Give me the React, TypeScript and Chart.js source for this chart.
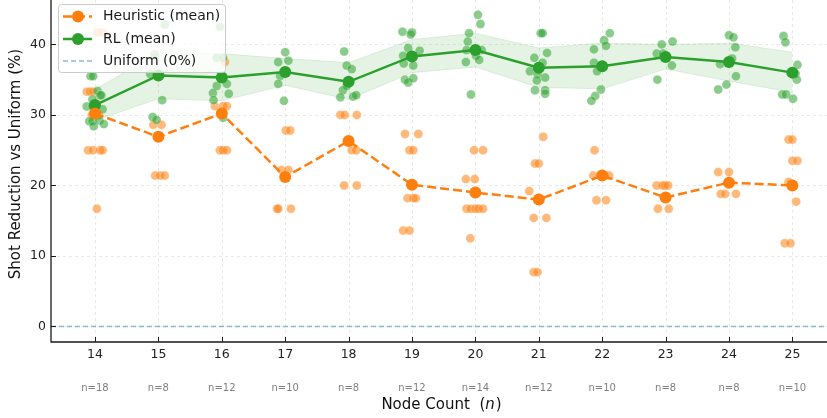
import React, { useEffect, useRef } from "react";
import { Chart, registerables } from "chart.js";

Chart.register(...registerables);

// ---------------- data ----------------
const nodeCounts = [14, 15, 16, 17, 18, 19, 20, 21, 22, 23, 24, 25];
const sampleSizes = [18, 8, 12, 10, 8, 12, 14, 12, 10, 8, 8, 10];
const heuristicMean = [30.2, 26.9, 30.2, 21.2, 26.3, 20.1, 19.0, 18.0, 21.4, 18.3, 20.4, 20.0];
const rlMean = [31.4, 35.6, 35.3, 36.1, 34.7, 38.3, 39.2, 36.7, 36.9, 38.2, 37.5, 36.0];
const rlUpper = [33.6, 38.9, 38.7, 38.0, 37.4, 40.7, 41.6, 39.5, 40.2, 40.0, 40.2, 38.9];
const rlLower = [29.2, 32.3, 32.0, 34.2, 32.2, 36.0, 36.8, 33.9, 33.7, 36.5, 34.8, 33.2];
const yTicks = [0, 10, 20, 30, 40];
const xLimits = [13.306, 25.546];
const yLimits = [-2.2, 46.3];
const uniformLevel = 0;

// individual runs: [node count, jitter, value]
const heuristicRuns: [number, number, number][] = [
  [14, 0.04, 41.7], [14, 0.13, 41.7], [14, -0.13, 33.3], [14, -0.08, 33.3], [14, -0.03, 33.3],
  [14, -0.05, 30.0], [14, 0.06, 30.0], [14, -0.11, 25.0], [14, -0.03, 25.0], [14, 0.08, 25.0],
  [14, 0.12, 25.0], [14, 0.03, 16.7],
  [15, -0.08, 28.6], [15, 0.05, 28.6], [15, -0.05, 21.4], [15, 0.03, 21.4], [15, 0.1, 21.4],
  [16, 0.05, 37.5], [16, -0.11, 31.25], [16, 0.02, 31.25], [16, 0.08, 31.25], [16, -0.03, 25.0],
  [16, 0.02, 25.0], [16, 0.08, 25.0],
  [17, 0.01, 27.8], [17, 0.08, 27.8], [17, -0.06, 22.2], [17, 0.05, 22.2], [17, -0.13, 16.7],
  [17, -0.11, 16.7], [17, 0.09, 16.7],
  [18, -0.13, 30.0], [18, -0.06, 30.0], [18, 0.13, 30.0], [18, 0.05, 25.0], [18, 0.12, 25.0],
  [18, -0.07, 20.0], [18, 0.13, 20.0],
  [19, -0.11, 27.3], [19, 0.1, 27.3], [19, -0.04, 25.0], [19, 0.02, 25.0], [19, -0.07, 18.2],
  [19, 0.02, 18.2], [19, 0.06, 18.2], [19, -0.14, 13.6], [19, -0.04, 13.6],
  [20, -0.02, 25.0], [20, 0.12, 25.0], [20, -0.15, 20.9], [20, -0.01, 20.9], [20, -0.14, 16.7],
  [20, -0.07, 16.7], [20, 0.0, 16.7], [20, 0.05, 16.7], [20, 0.12, 16.7], [20, -0.08, 12.5],
  [21, 0.07, 26.9], [21, -0.06, 23.1], [21, 0.0, 23.1], [21, -0.15, 19.2], [21, -0.08, 15.4],
  [21, 0.12, 15.4], [21, -0.08, 7.7], [21, -0.02, 7.7],
  [22, -0.12, 25.0], [22, -0.14, 21.4], [22, 0.04, 21.4], [22, 0.11, 21.4], [22, -0.09, 17.9],
  [22, 0.06, 17.9],
  [23, -0.14, 20.0], [23, -0.05, 20.0], [23, -0.01, 20.0], [23, 0.04, 20.0], [23, -0.12, 16.7],
  [23, 0.05, 16.7],
  [24, -0.17, 21.9], [24, 0.0, 21.9], [24, -0.13, 18.8], [24, -0.06, 18.8], [24, 0.11, 18.8],
  [25, -0.06, 26.5], [25, 0.0, 26.5], [25, 0.0, 23.5], [25, 0.08, 23.5], [25, -0.06, 20.5],
  [25, 0.06, 17.7], [25, -0.12, 11.8], [25, -0.03, 11.8],
];

const rlRuns: [number, number, number][] = [
  [14, -0.07, 35.5], [14, -0.03, 35.5], [14, 0.04, 33.4], [14, 0.08, 32.8], [14, 0.1, 32.8],
  [14, -0.04, 32.2], [14, -0.13, 31.2], [14, -0.04, 31.2], [14, 0.12, 30.8], [14, -0.09, 29.1],
  [14, -0.04, 29.1], [14, 0.07, 29.2], [14, -0.02, 28.4], [14, 0.14, 28.7],
  [15, 0.1, 42.8], [15, -0.06, 38.6], [15, -0.13, 35.8], [15, 0.06, 32.1], [15, -0.09, 29.7],
  [15, -0.03, 29.3],
  [16, -0.03, 42.5], [16, -0.08, 38.1], [16, 0.02, 38.1], [16, 0.08, 34.4], [16, -0.08, 34.1],
  [16, -0.14, 33.1], [16, 0.11, 33.0], [16, -0.13, 32.1], [16, 0.02, 29.6],
  [17, 0.0, 38.9], [17, -0.11, 37.5], [17, 0.05, 37.7], [17, -0.08, 35.5], [17, -0.11, 34.4],
  [17, -0.02, 32.0],
  [18, -0.07, 39.0], [18, -0.03, 37.0], [18, 0.05, 36.5], [18, -0.09, 33.5], [18, -0.03, 34.1],
  [18, -0.13, 32.5], [18, 0.07, 32.6], [18, 0.12, 32.8],
  [19, -0.15, 41.8], [19, 0.0, 41.7], [19, -0.02, 41.4], [19, -0.06, 39.5], [19, 0.12, 39.1],
  [19, -0.14, 38.4], [19, 0.02, 37.0], [19, -0.13, 37.3], [19, -0.11, 35.0], [19, -0.06, 34.6],
  [19, 0.02, 35.2],
  [20, 0.04, 44.2], [20, 0.08, 42.9], [20, -0.1, 41.6], [20, -0.12, 40.4], [20, -0.14, 39.2],
  [20, 0.1, 39.2], [20, 0.01, 38.4], [20, 0.06, 37.8], [20, -0.15, 37.5], [20, -0.07, 32.9],
  [21, 0.03, 41.6], [21, 0.06, 41.6], [21, 0.13, 38.8], [21, -0.07, 38.1], [21, 0.06, 37.4],
  [21, -0.14, 36.2], [21, -0.02, 35.8], [21, 0.1, 35.3], [21, -0.03, 34.9], [21, -0.06, 33.5],
  [21, 0.1, 33.5], [21, 0.1, 33.0],
  [22, 0.12, 41.6], [22, 0.03, 40.6], [22, 0.06, 39.8], [22, -0.13, 39.3], [22, -0.13, 37.4],
  [22, -0.08, 36.2], [22, -0.02, 33.6], [22, -0.11, 32.7], [22, -0.17, 32.0],
  [23, -0.06, 40.0], [23, 0.11, 40.4], [23, -0.14, 38.7], [23, -0.04, 38.7], [23, 0.1, 37.0],
  [23, -0.13, 35.0],
  [24, 0.0, 41.3], [24, 0.07, 41.0], [24, 0.1, 39.6], [24, 0.05, 38.0], [24, -0.14, 37.2],
  [24, 0.11, 35.5], [24, -0.04, 34.3], [24, -0.17, 33.6],
  [25, -0.14, 41.2], [25, -0.11, 40.3], [25, 0.08, 37.1], [25, 0.05, 35.85], [25, 0.07, 35.0],
  [25, -0.16, 32.9], [25, -0.1, 32.9], [25, 0.01, 32.3],
];

// ---------------- styling ----------------
const ORANGE = "#ff7f0e";
const GREEN = "#2ca02c";
const FONT = '"DejaVu Sans", "Liberation Sans", sans-serif';
const HEUR_DASH = [9, 4];
const UNI_DASH = [5, 3];

const decorPlugin = {
  id: "decor",
  beforeDatasetsDraw(chart: any) {
    const { ctx, chartArea: a, scales } = chart;
    const x = scales.x;
    const y = scales.y;
    ctx.save();
    ctx.strokeStyle = "#e4e4e4";
    ctx.lineWidth = 0.8;
    ctx.setLineDash([3, 3]);
    nodeCounts.forEach((n) => {
      const px = Math.round(x.getPixelForValue(n)) + 0.5;
      ctx.beginPath();
      ctx.moveTo(px, a.top);
      ctx.lineTo(px, a.bottom);
      ctx.stroke();
    });
    yTicks.forEach((v) => {
      const py = Math.round(y.getPixelForValue(v)) + 0.5;
      ctx.beginPath();
      ctx.moveTo(a.left, py);
      ctx.lineTo(a.right, py);
      ctx.stroke();
    });
    ctx.restore();
  },
  afterDraw(chart: any) {
    const { ctx, chartArea: a, scales } = chart;
    const x = scales.x;
    const y = scales.y;
    ctx.save();
    ctx.setLineDash([]);
    // spines
    ctx.strokeStyle = "#1a1a1a";
    ctx.lineWidth = 1.3;
    ctx.beginPath();
    ctx.moveTo(a.left, a.top);
    ctx.lineTo(a.left, a.bottom);
    ctx.lineTo(a.right, a.bottom);
    ctx.stroke();
    // ticks (inside)
    ctx.lineWidth = 1;
    nodeCounts.forEach((n) => {
      const px = Math.round(x.getPixelForValue(n)) + 0.5;
      ctx.beginPath();
      ctx.moveTo(px, a.bottom);
      ctx.lineTo(px, a.bottom - 5);
      ctx.stroke();
    });
    yTicks.forEach((v) => {
      const py = Math.round(y.getPixelForValue(v)) + 0.5;
      ctx.beginPath();
      ctx.moveTo(a.left, py);
      ctx.lineTo(a.left + 5, py);
      ctx.stroke();
    });
    // tick labels
    ctx.fillStyle = "#222";
    ctx.font = `12.5px ${FONT}`;
    ctx.textAlign = "center";
    ctx.textBaseline = "middle";
    nodeCounts.forEach((n) => {
      ctx.fillText(String(n), x.getPixelForValue(n), a.bottom + 13);
    });
    ctx.textAlign = "right";
    yTicks.forEach((v) => {
      ctx.fillText(String(v), a.left - 5, y.getPixelForValue(v));
    });
    // sample sizes
    ctx.fillStyle = "#808080";
    ctx.font = `10px ${FONT}`;
    ctx.textAlign = "center";
    nodeCounts.forEach((n, i) => {
      ctx.fillText(`n=${sampleSizes[i]}`, x.getPixelForValue(n), a.bottom + 46);
    });
    // x title
    ctx.fillStyle = "#111";
    const normal = `15px ${FONT}`;
    const italic = `italic 15px ${FONT}`;
    const p1 = "Node Count  (";
    const p2 = "n";
    const p3 = ")";
    ctx.font = normal;
    const w1 = ctx.measureText(p1).width;
    const w3 = ctx.measureText(p3).width;
    ctx.font = italic;
    const w2 = ctx.measureText(p2).width;
    const cx = (a.left + a.right) / 2 + 2;
    const sx = cx - (w1 + w2 + w3) / 2;
    const ty = a.bottom + 63;
    ctx.textAlign = "left";
    ctx.font = normal;
    ctx.fillText(p1, sx, ty);
    ctx.font = italic;
    ctx.fillText(p2, sx + w1, ty);
    ctx.font = normal;
    ctx.fillText(p3, sx + w1 + w2 + 1, ty);
    // y title
    ctx.save();
    ctx.translate(16, 164);
    ctx.rotate(-Math.PI / 2);
    ctx.textAlign = "center";
    ctx.font = normal;
    ctx.fillText("Shot Reduction vs Uniform (%)", 0, 0);
    ctx.restore();

    // legend
    const lx = 58, ly = 4, lw = 167, lh = 68;
    ctx.fillStyle = "rgba(255,255,255,0.8)";
    ctx.strokeStyle = "#cccccc";
    ctx.lineWidth = 1;
    ctx.beginPath();
    (ctx as any).roundRect(lx + 0.5, ly + 0.5, lw, lh, 3);
    ctx.fill();
    ctx.stroke();
    const rows = [16.5, 39, 61];
    const hx0 = 63, hx1 = 92, hc = 78;
    // heuristic
    ctx.strokeStyle = ORANGE;
    ctx.lineWidth = 2.5;
    ctx.setLineDash(HEUR_DASH);
    ctx.beginPath();
    ctx.moveTo(hx0, rows[0]);
    ctx.lineTo(hx1, rows[0]);
    ctx.stroke();
    ctx.setLineDash([]);
    ctx.fillStyle = ORANGE;
    ctx.beginPath();
    ctx.arc(hc, rows[0], 6, 0, Math.PI * 2);
    ctx.fill();
    // RL
    ctx.strokeStyle = GREEN;
    ctx.beginPath();
    ctx.moveTo(hx0, rows[1]);
    ctx.lineTo(hx1, rows[1]);
    ctx.stroke();
    ctx.fillStyle = GREEN;
    ctx.beginPath();
    ctx.arc(hc, rows[1], 6, 0, Math.PI * 2);
    ctx.fill();
    // uniform
    ctx.strokeStyle = "rgba(31,119,180,0.5)";
    ctx.lineWidth = 1.5;
    ctx.setLineDash(UNI_DASH);
    ctx.beginPath();
    ctx.moveTo(hx0, rows[2]);
    ctx.lineTo(hx1, rows[2]);
    ctx.stroke();
    ctx.setLineDash([]);
    ctx.fillStyle = "#1a1a1a";
    ctx.font = `14px ${FONT}`;
    ctx.textAlign = "left";
    ctx.textBaseline = "middle";
    ctx.fillText("Heuristic (mean)", 103, rows[0]);
    ctx.fillText("RL (mean)", 103, rows[1]);
    ctx.fillText("Uniform (0%)", 103, rows[2]);
    ctx.restore();
  },
};

export default function App() {
  const canvasRef = useRef<HTMLCanvasElement | null>(null);

  useEffect(() => {
    if (!canvasRef.current) return;
    const toPts = (arr: number[]) => nodeCounts.map((n, i) => ({ x: n, y: arr[i] }));
    const runPts = (runs: [number, number, number][]) =>
      runs.map(([n, j, v]) => ({ x: n + j, y: v }));

    const chart = new Chart(canvasRef.current, {
      type: "line",
      data: {
        datasets: [
          {
            label: "band-lower",
            data: toPts(rlLower),
            borderColor: "rgba(44,160,44,0.12)",
            borderWidth: 1,
            pointRadius: 0,
            fill: false,
            order: 9,
          } as any,
          {
            label: "band-upper",
            data: toPts(rlUpper),
            borderColor: "rgba(44,160,44,0.12)",
            borderWidth: 1,
            pointRadius: 0,
            backgroundColor: "rgba(44,160,44,0.13)",
            fill: "-1",
            order: 8,
          } as any,
          {
            type: "scatter",
            label: "heuristic-runs",
            data: runPts(heuristicRuns),
            backgroundColor: "rgba(255,127,14,0.55)",
            borderColor: "rgba(255,255,255,0.5)",
            borderWidth: 0.5,
            pointRadius: 4.5,
            showLine: false,
            order: 6,
          } as any,
          {
            type: "scatter",
            label: "rl-runs",
            data: runPts(rlRuns),
            backgroundColor: "rgba(44,160,44,0.55)",
            borderColor: "rgba(255,255,255,0.5)",
            borderWidth: 0.5,
            pointRadius: 4.5,
            showLine: false,
            order: 5,
          } as any,
          {
            label: "Uniform (0%)",
            data: xLimits.map((v) => ({ x: v, y: uniformLevel })),
            borderColor: "rgba(31,119,180,0.5)",
            borderWidth: 1.5,
            borderDash: UNI_DASH,
            pointRadius: 0,
            fill: false,
            order: 4,
          } as any,
          {
            label: "RL (mean)",
            data: toPts(rlMean),
            borderColor: GREEN,
            backgroundColor: GREEN,
            borderWidth: 2.5,
            pointRadius: 6,
            pointBorderWidth: 0,
            pointBackgroundColor: GREEN,
            fill: false,
            order: 1,
          } as any,
          {
            label: "Heuristic (mean)",
            data: toPts(heuristicMean),
            borderColor: ORANGE,
            backgroundColor: ORANGE,
            borderWidth: 2.5,
            borderDash: HEUR_DASH,
            pointRadius: 6,
            pointBorderWidth: 0,
            pointBackgroundColor: ORANGE,
            fill: false,
            order: 0,
          } as any,
        ],
      },
      options: {
        animation: false,
        responsive: false,
        devicePixelRatio: 1,
        layout: { autoPadding: false, padding: { left: 51, right: 0, top: 0, bottom: 76 } },
        scales: {
          x: { type: "linear", min: xLimits[0], max: xLimits[1], display: false },
          y: { type: "linear", min: yLimits[0], max: yLimits[1], display: false },
        },
        plugins: {
          legend: { display: false },
          tooltip: { enabled: false },
        },
        elements: { line: { tension: 0 } },
      },
      plugins: [decorPlugin],
    });
    return () => chart.destroy();
  }, []);

  return (
    <div style={{ position: "fixed", left: 0, top: 0, width: 827, height: 418, background: "#fff" }}>
      <canvas ref={canvasRef} width={827} height={418} style={{ display: "block" }} />
    </div>
  );
}
